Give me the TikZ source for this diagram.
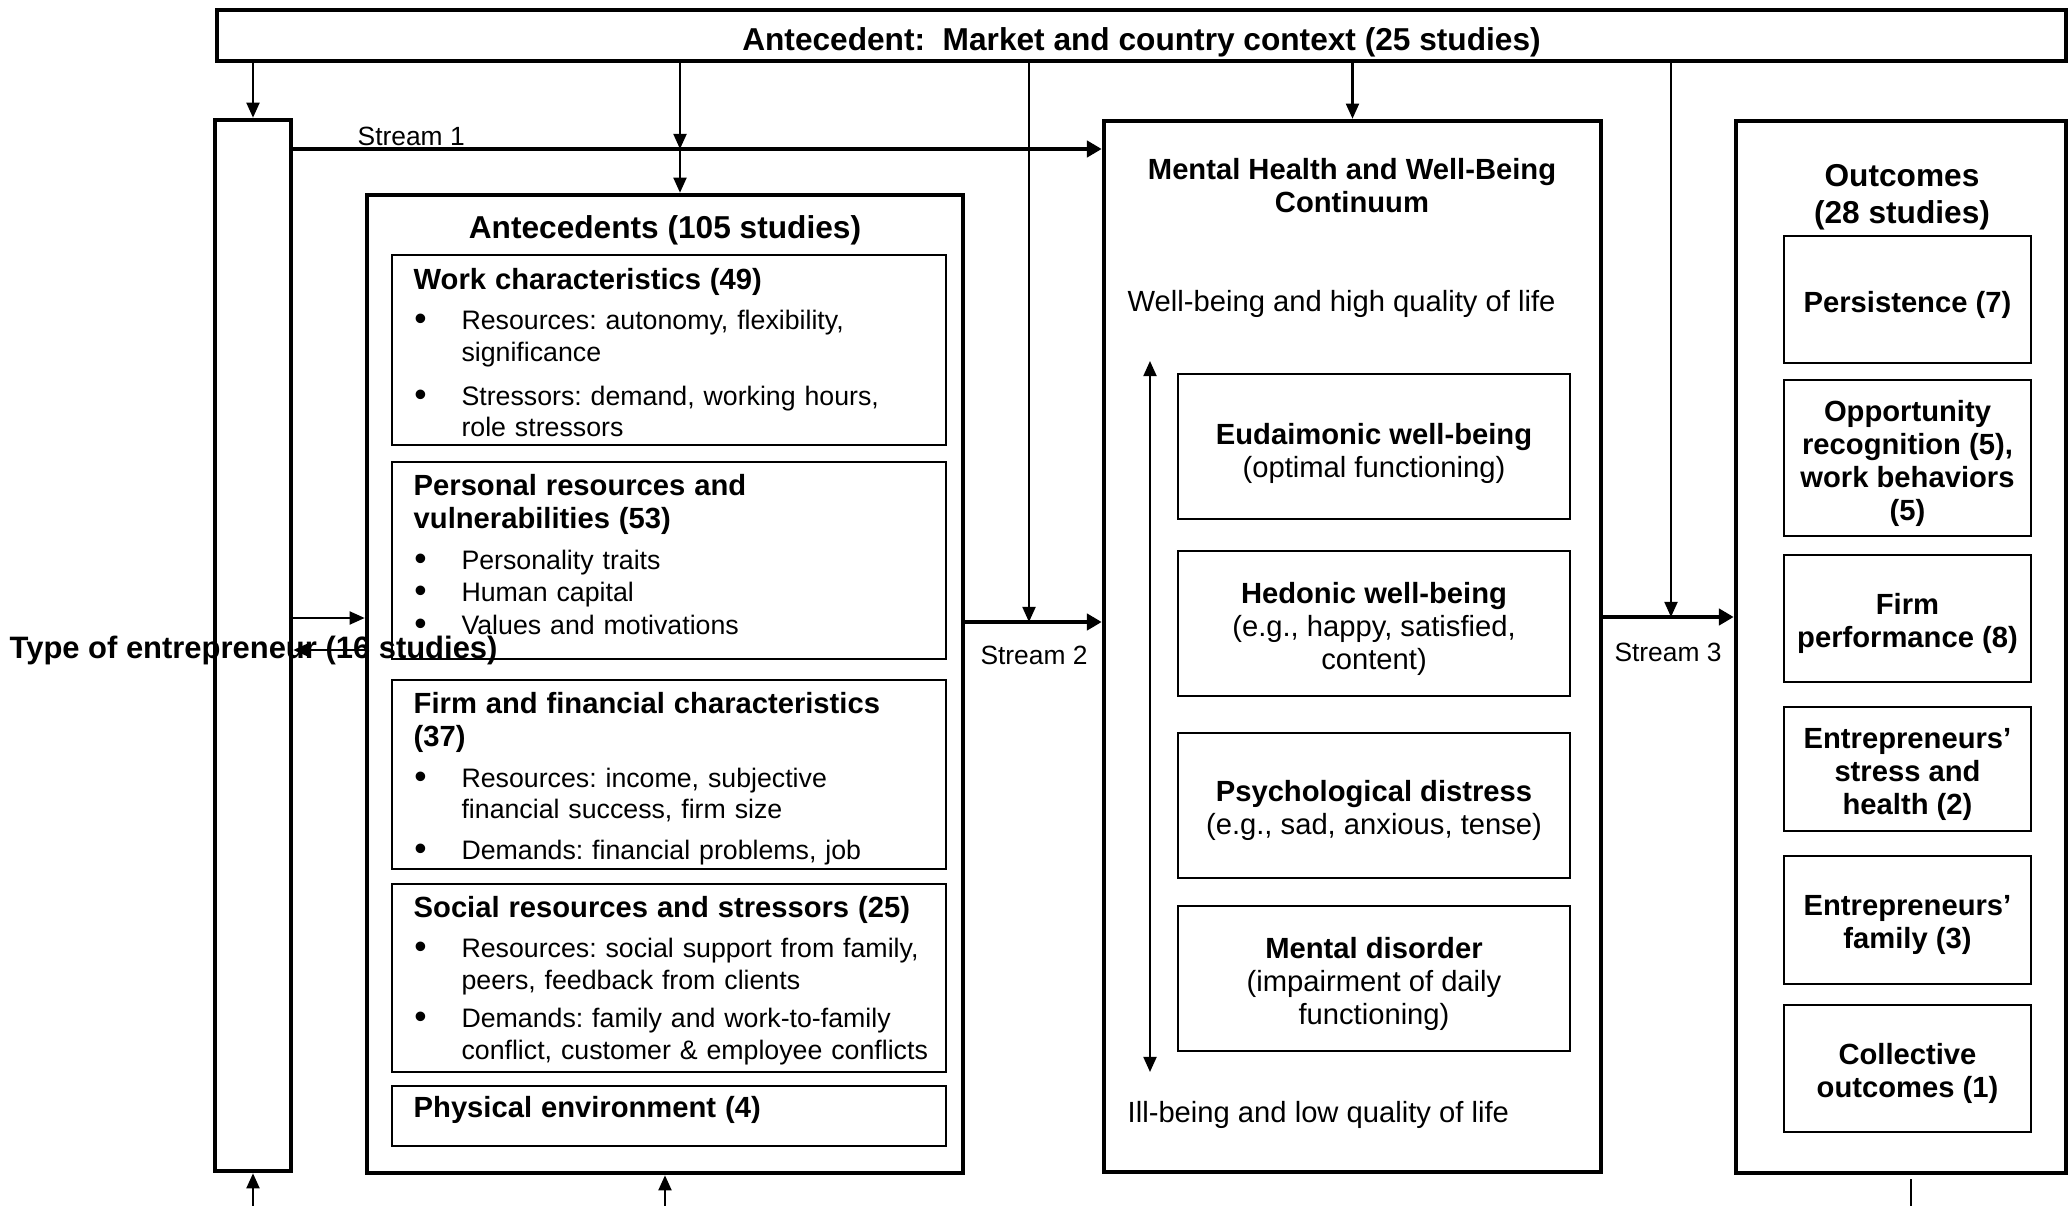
\documentclass[tikz,border=0pt]{standalone}
\usepackage{fontspec}
\setmainfont{Liberation Sans}
\usetikzlibrary{fit}
\usetikzlibrary{arrows.meta}
\setlength{\parindent}{0pt}
\frenchspacing
\tikzset{frame/.style={rectangle, draw, line width=1.3pt, inner sep=0pt}}
\tikzset{cell/.style={rectangle, draw, line width=0.7pt, inner sep=0pt}}
\tikzset{lab/.style={align=center, yshift=-1.5pt, font=\fontsize{8.3}{9.4}\selectfont}}
\tikzset{blab/.style={lab, font=\fontsize{8.3}{9.4}\selectfont\bfseries}}
\tikzset{blist/.style={anchor=north west, inner sep=0pt, text width=5.6cm, align=left,
   font=\fontsize{7.6}{9}\selectfont}}
\tikzset{conn/.style={-{Triangle[length=4.3pt,width=3.7pt]}, line width=0.6pt}}
\tikzset{both/.style={{Triangle[length=4.3pt,width=3.7pt]}-{Triangle[length=4.3pt,width=3.7pt]}, line width=0.6pt}}
\tikzset{stream/.style={-{Triangle[length=4.2pt,width=4.6pt]}, line width=1.3pt}}
\newcommand{\bhd}[1]{{\fontsize{8.3}{9.4}\selectfont\bfseries\rule{0pt}{7pt}#1\par}}
\newcommand{\bul}[2][0pt]{\par\vspace{#1}\hangindent=13.6pt\hangafter=1\noindent
   \makebox[13.6pt][l]{\hspace{0.2pt}\raisebox{-0.3pt}{\fontsize{10}{10}\selectfont\textbullet}}#2\par}

\begin{document}
\begin{tikzpicture}[x=0.01cm, y=-0.01cm]
  \useasboundingbox (0,0) rectangle (2071,1206);

  % outer frames
  \node[frame, fit={(217,10) (2066,61)},
     label={[yshift=-1.9pt, font=\fontsize{9}{10.5}\selectfont\bfseries]center:{Antecedent:\ \ Market and country context (25 studies)}}] (ctx) {};
  \node[frame, fit={(215,120) (291,1171)}] (bar) {};
  \node[frame, fit={(367,195) (963,1173)}] (ant) {};
  \node[frame, fit={(1104,121) (1601,1172)}] (mh) {};
  \node[frame, fit={(1736,121) (2066,1173)}] (out) {};

  % antecedents
  \node[font=\fontsize{9}{10.5}\selectfont\bfseries] (ant-t) at (665,230) {Antecedents (105 studies)};
  \node[cell, fit={(392,255) (946,445)}] (work) {};
  \node[cell, fit={(392,462) (946,659)}] (pers) {};
  \node[cell, fit={(392,680) (946,869)}] (firm) {};
  \node[cell, fit={(392,884) (946,1072)}] (soc) {};
  \node[cell, fit={(392,1086) (946,1146)}] (phys) {};

  \node[blist] (work-l) at (413,264) {\bhd{Work characteristics (49)}
    \bul[2.4pt]{Resources: autonomy, flexibility,\newline significance}
    \bul[3.5pt]{Stressors: demand, working hours,\newline role stressors}};
  \node[blist] (pers-l) at (413,470) {\bhd{Personal resources and\\vulnerabilities (53)}
    \bul[2.6pt]{Personality traits}
    \bul[0.3pt]{Human capital}
    \bul[0.3pt]{Values and motivations}};
  \node[blist] (firm-l) at (413,688) {\bhd{Firm and financial characteristics\\(37)}
    \bul[2.6pt]{Resources: income, subjective\newline financial success, firm size}
    \bul[2.6pt]{Demands: financial problems, job}};
  \node[blist] (soc-l) at (413,892) {\bhd{Social resources and stressors (25)}
    \bul[2.4pt]{Resources: social support from family,\newline peers, feedback from clients}
    \bul[2pt]{Demands: family and work-to-family\newline conflict, customer \& employee conflicts}};
  \node[blist] (phys-l) at (413,1092) {\bhd{Physical environment (4)}};

  % mental health continuum
  \node[font=\fontsize{8.3}{9.4}\selectfont\bfseries, align=center] (mh-t) at (1352,186)
     {Mental Health and Well-Being\\Continuum};
  \node[anchor=west, inner sep=0pt, font=\fontsize{8.3}{9.4}\selectfont] (hi) at (1127,304)
     {Well-being and high quality of life};
  \node[anchor=west, inner sep=0pt, font=\fontsize{8.3}{9.4}\selectfont] (lo) at (1127,1115)
     {Ill-being and low quality of life};
  \node[cell, fit={(1178,374) (1570,519)}, label={[lab, yshift=-0.4pt]center:{\textbf{Eudaimonic well-being}\\(optimal functioning)}}] (eud) {};
  \node[cell, fit={(1178,551) (1570,696)}, label={[lab]center:{\textbf{Hedonic well-being}\\(e.g., happy, satisfied,\\content)}}] (hed) {};
  \node[cell, fit={(1178,733) (1570,878)}, label={[lab]center:{\textbf{Psychological distress}\\(e.g., sad, anxious, tense)}}] (dist) {};
  \node[cell, fit={(1178,906) (1570,1051)}, label={[lab]center:{\textbf{Mental disorder}\\(impairment of daily\\functioning)}}] (mdis) {};
  \coordinate (c-top) at (1150,361);
  \coordinate (c-bot) at (1150,1072);
  \draw[both] (c-top) -- (c-bot);

  % outcomes
  \node[font=\fontsize{9}{10.5}\selectfont\bfseries, align=center] (out-t) at (1902,197)
     {Outcomes\\(28 studies)};
  \node[cell, fit={(1784,236) (2031,363)}, label={[blab]center:{Persistence (7)}}] (persist) {};
  \node[cell, fit={(1784,380) (2031,536)}, label={[blab]center:{Opportunity\\recognition (5),\\work behaviors\\(5)}}] (opp) {};
  \node[cell, fit={(1784,555) (2031,682)}, label={[blab]center:{Firm\\performance (8)}}] (perf) {};
  \node[cell, fit={(1784,707) (2031,831)}, label={[blab]center:{Entrepreneurs’\\stress and\\health (2)}}] (stress) {};
  \node[cell, fit={(1784,856) (2031,984)}, label={[blab]center:{Entrepreneurs’\\family (3)}}] (fam) {};
  \node[cell, fit={(1784,1005) (2031,1132)}, label={[blab]center:{Collective\\outcomes (1)}}] (coll) {};

  % type of entrepreneur
  \node[anchor=base west, inner sep=0pt, font=\fontsize{8.8}{10}\selectfont\bfseries] (toe) at (9,658)
     {Type of entrepreneur (16 studies)};

  % streams
  \coordinate (s1) at (0,149);
  \coordinate (s2) at (0,622);
  \coordinate (s3) at (0,617);
  \draw[stream] (bar.east |- s1) -- (mh.west |- s1);
  \draw[stream] (ant.east |- s2) -- (mh.west |- s2);
  \draw[stream] (mh.east |- s3) -- (out.west |- s3);
  \node[anchor=base west, inner sep=0pt, font=\fontsize{7.5}{9}\selectfont] (s1-l) at (357,146) {Stream 1};
  \node[anchor=base, inner sep=0pt, font=\fontsize{7.5}{9}\selectfont] (s2-l) at (1034,664) {Stream 2};
  \node[anchor=base, inner sep=0pt, font=\fontsize{7.5}{9}\selectfont] (s3-l) at (1668,661) {Stream 3};

  % context arrows
  \coordinate (d2) at (680,0);
  \coordinate (d3) at (1029,0);
  \coordinate (d5) at (1671,0);
  \draw[conn] (ctx.south -| bar.north) -- (bar.north);
  \draw[conn] (ctx.south -| d2) -- (s1 -| d2);
  \draw[conn] (s1 -| d2) -- (ant.north -| d2);
  \draw[conn] (ctx.south -| d3) -- (s2 -| d3);
  \draw[conn] (ctx.south -| mh.north) -- (mh.north);
  \draw[conn] (ctx.south -| d5) -- (s3 -| d5);

  % entrepreneur <-> antecedents
  \coordinate (e1) at (0,618);
  \coordinate (e2) at (0,650);
  \draw[conn] (bar.east |- e1) -- (ant.west |- e1);
  \draw[conn] (ant.west |- e2) -- (bar.east |- e2);

  % from below
  \coordinate (b1) at (253,1206);
  \coordinate (b2) at (665,1206);
  \coordinate (b3) at (1911,1206);
  \coordinate (b3t) at (1911,1179);
  \draw[conn] (b1) -- (bar.south);
  \draw[conn] (b2) -- (ant.south);
  \draw[line width=0.6pt] (b3) -- (b3t);

\end{tikzpicture}
\end{document}
